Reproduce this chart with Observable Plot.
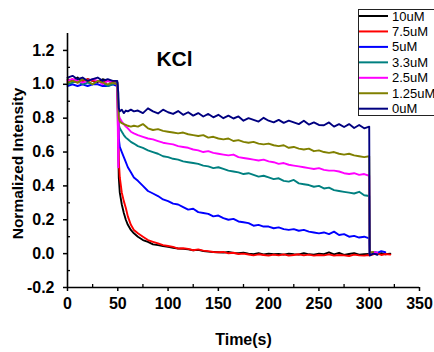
<!DOCTYPE html>
<html>
<head>
<meta charset="utf-8">
<script src="https://cdn.jsdelivr.net/npm/d3@7"></script>
<script src="https://cdn.jsdelivr.net/npm/@observablehq/plot@0.6"></script>
<style>
  html, body { margin: 0; padding: 0; background: #fff; overflow: hidden; }
  #wrap { position: relative; width: 434px; height: 352px; }
  #wrap svg { position: absolute; left: 0; top: 0; }
</style>
</head>
<body>
<div id="wrap"></div>
<script>
// ---- data ----
const seriesNames = ["10uM", "7.5uM", "5uM", "3.3uM", "2.5uM", "1.25uM", "0uM"];
const seriesColors = ["#000000", "#ff0000", "#0000ff", "#008080", "#ff00ff", "#808000", "#000080"];

const time = [0, 5, 10, 15, 20, 25, 30, 35, 40, 45, 49.5,
  50.5, 51, 52, 54, 56, 58, 60, 63, 66,
  70, 75, 80, 85, 90, 95, 100, 105, 110, 115, 120, 125, 130, 135, 140, 145, 150,
  155, 160, 165, 170, 175, 180, 185, 190, 195, 200, 205, 210, 215, 220, 225, 230,
  235, 240, 245, 250, 255, 260, 265, 270, 275, 280, 285, 290, 295, 300];
const tailTime = [300.5, 304, 308, 312, 316, 321];

const v10 = [1.03, 1.02, 1.04, 1.01, 1.03, 1.02, 1.01, 1.03, 1.02, 1.01, 1.01,
  0.62, 0.45, 0.36, 0.29, 0.24, 0.20, 0.17, 0.14, 0.12,
  0.10, 0.08, 0.07, 0.055, 0.05, 0.045, 0.04, 0.035, 0.03, 0.028, 0.025, 0.02, 0.022, 0.015, 0.012, 0.01, 0.008,
  0.006, 0.01, 0.004, 0.002, 0.005, 0.0, -0.003, 0.002, -0.005, 0.0, -0.004, -0.002, -0.006, 0.0, -0.003, -0.005,
  0.002, -0.004, -0.006, 0.0, -0.003, 0.008, -0.004, 0.005, -0.008, -0.002, 0.003, -0.006, -0.004, -0.002];
const t10 = [-0.01, 0.0, -0.005, 0.003, -0.004, 0.0];

const v75 = [1.02, 1.03, 1.01, 1.02, 1.03, 1.02, 1.02, 1.01, 1.02, 1.02, 1.01,
  0.75, 0.55, 0.45, 0.36, 0.31, 0.27, 0.22, 0.17, 0.14,
  0.12, 0.10, 0.08, 0.07, 0.06, 0.05, 0.045, 0.04, 0.03, 0.032, 0.028, 0.02, 0.025, 0.018, 0.015, 0.01, 0.008,
  0.01, 0.002, 0.005, -0.002, 0.0, -0.005, -0.01, -0.004, -0.008, -0.012, -0.006, -0.01, -0.004, -0.012, -0.008, -0.004,
  -0.01, -0.006, -0.012, -0.008, -0.01, -0.004, -0.012, -0.008, -0.01, -0.014, -0.006, -0.01, -0.012, -0.008];
const t75 = [-0.01, -0.004, 0.002, -0.008, -0.002, -0.006];

const v5 = [0.99, 1.0, 0.99, 1.0, 0.99, 1.0, 1.0, 0.99, 0.99, 1.0, 0.99,
  0.85, 0.68, 0.63, 0.60, 0.57, 0.54, 0.51, 0.48, 0.45,
  0.43, 0.40, 0.37, 0.355, 0.34, 0.32, 0.31, 0.295, 0.29, 0.275, 0.26, 0.265, 0.245, 0.24, 0.235, 0.22, 0.225,
  0.21, 0.20, 0.205, 0.19, 0.185, 0.18, 0.165, 0.17, 0.16, 0.16, 0.15, 0.155, 0.145, 0.14, 0.145, 0.135,
  0.14, 0.13, 0.125, 0.12, 0.125, 0.115, 0.13, 0.11, 0.115, 0.10, 0.105, 0.095, 0.10, 0.09];
const t5 = [0.0, 0.01, 0.005, 0.015, 0.008, null];

const v33 = [1.0, 1.01, 1.02, 1.0, 1.01, 1.0, 1.02, 1.01, 0.99, 1.0, 1.01,
  0.9, 0.76, 0.74, 0.72, 0.70, 0.685, 0.675, 0.66, 0.65,
  0.635, 0.625, 0.61, 0.60, 0.59, 0.575, 0.57, 0.56, 0.555, 0.545, 0.54, 0.535, 0.53, 0.52, 0.515, 0.505, 0.51,
  0.50, 0.49, 0.485, 0.48, 0.47, 0.475, 0.465, 0.455, 0.46, 0.45, 0.44, 0.445, 0.43, 0.425, 0.435, 0.415,
  0.41, 0.405, 0.395, 0.40, 0.385, 0.39, 0.375, 0.37, 0.365, 0.36, 0.355, 0.365, 0.345, 0.34];
const t33 = [0.0, 0.008, 0.004, null, null, null];

const v25 = [1.02, 1.03, 1.02, 1.01, 1.02, 1.03, 1.02, 1.0, 1.02, 1.01, 1.0,
  0.51, 0.82, 0.80, 0.78, 0.765, 0.75, 0.74, 0.72, 0.71,
  0.70, 0.69, 0.68, 0.675, 0.665, 0.655, 0.65, 0.645, 0.635, 0.63, 0.625, 0.615, 0.61, 0.60, 0.605, 0.595, 0.59,
  0.585, 0.58, 0.585, 0.57, 0.565, 0.56, 0.555, 0.55, 0.555, 0.545, 0.54, 0.53, 0.535, 0.525, 0.52, 0.515,
  0.51, 0.505, 0.50, 0.505, 0.495, 0.49, 0.49, 0.485, 0.475, 0.47, 0.475, 0.465, 0.47, 0.46];
const t25 = [0.0, 0.01, 0.005, null, null, null];

const v125 = [1.01, 1.02, 1.01, 1.03, 1.02, 1.0, 1.02, 1.01, 1.0, 1.01, 1.0,
  0.88, 0.80, 0.78, 0.77, 0.765, 0.76, 0.755, 0.75, 0.755,
  0.75, 0.765, 0.74, 0.73, 0.735, 0.725, 0.72, 0.715, 0.71, 0.715, 0.705, 0.70, 0.695, 0.70, 0.685, 0.69, 0.68,
  0.675, 0.68, 0.665, 0.67, 0.66, 0.655, 0.66, 0.65, 0.645, 0.65, 0.64, 0.635, 0.64, 0.625, 0.63, 0.62,
  0.615, 0.62, 0.605, 0.61, 0.60, 0.595, 0.60, 0.59, 0.585, 0.59, 0.58, 0.575, 0.57, 0.575];
const t125 = [0.005, 0.01, null, null, null, null];

const v0 = [1.04, 1.05, 1.03, 1.04, 1.02, 1.03, 1.04, 1.02, 1.03, 1.02, 1.02,
  0.95, 0.86, 0.84, 0.85, 0.83, 0.845, 0.84, 0.85, 0.84,
  0.845, 0.83, 0.858, 0.84, 0.828, 0.85, 0.835, 0.825, 0.842, 0.82, 0.835, 0.815, 0.83, 0.81, 0.825, 0.805, 0.82,
  0.80, 0.815, 0.798, 0.81, 0.785, 0.80, 0.79, 0.78, 0.802, 0.785, 0.775, 0.79, 0.772, 0.785, 0.775, 0.765,
  0.785, 0.762, 0.775, 0.76, 0.758, 0.775, 0.75, 0.765, 0.748, 0.765, 0.742, 0.76, 0.74, 0.75];
const t0 = [-0.01, 0.0, -0.005, null, null, null];

const mainValues = [v10, v75, v5, v33, v25, v125, v0];
const tailValues = [t10, t75, t5, t33, t25, t125, t0];

const xTicks = [0, 50, 100, 150, 200, 250, 300, 350];
const xMinor = [25, 75, 125, 175, 225, 275, 325];
const yTicks = [-0.2, 0.0, 0.2, 0.4, 0.6, 0.8, 1.0, 1.2];
const yMinor = [-0.1, 0.1, 0.3, 0.5, 0.7, 0.9, 1.1];
const xDomain = [0, 350];
const yDomain = [-0.2, 1.3];
const title = "KCl";
const xLabel = "Time(s)";
const yLabel = "Normalized Intensity";

// ---- build rows ----
const seriesRows = seriesNames.map((name, i) => {
  const rows = time.map((t, j) => ({t, v: mainValues[i][j], s: name}));
  tailTime.forEach((t, j) => rows.push({t, v: tailValues[i][j], s: name}));
  return rows;
});

const font = "'Liberation Sans', Arial, sans-serif";

const lineMarks = seriesRows.map((rows, i) =>
  Plot.line(rows, {x: "t", y: "v", stroke: seriesColors[i], strokeWidth: 1.9, strokeLinejoin: "round"}));

const chart = Plot.plot({
  width: 434,
  height: 352,
  marginLeft: 67,
  marginRight: 15,
  marginTop: 33,
  marginBottom: 65,
  style: {fontFamily: font, background: "transparent", color: "#000"},
  x: {domain: xDomain},
  y: {domain: yDomain},
  marks: [
    ...lineMarks,
    Plot.ruleX([xDomain[0]], {stroke: "#000", strokeWidth: 1.6}),
    Plot.ruleY([yDomain[0]], {stroke: "#000", strokeWidth: 1.6}),
    Plot.axisX({ticks: xTicks, tickSize: 4, tickPadding: 6, tickFormat: d => String(d),
      fontSize: 16, fontWeight: "bold", strokeWidth: 1.5, label: null}),
    Plot.axisX({ticks: xMinor, tickSize: 3, dy: -3, text: null, strokeWidth: 1.3, label: null}),
    Plot.axisY({ticks: yTicks, tickSize: 4, tickPadding: 9, tickFormat: d => d.toFixed(1),
      fontSize: 16, fontWeight: "bold", strokeWidth: 1.5, label: null}),
    Plot.axisY({ticks: yMinor, tickSize: 3, dx: 3, text: null, strokeWidth: 1.3, label: null}),
    Plot.text([title], {frameAnchor: "top-left", dx: 107, dy: 26, fontSize: 21, fontWeight: "bold",
      textAnchor: "middle", lineAnchor: "middle"}),
    Plot.text([xLabel], {frameAnchor: "bottom", dy: 52, fontSize: 16, fontWeight: "bold",
      lineAnchor: "middle"}),
    Plot.text([yLabel], {frameAnchor: "left", dx: -49, dy: 3, rotate: -90, fontSize: 15.5, fontWeight: "bold",
      lineAnchor: "middle", textAnchor: "middle"})
  ]
});

const wrap = document.getElementById("wrap");
wrap.appendChild(chart);

// ---- legend overlay ----
const leg = d3.select(wrap).append("svg")
  .attr("width", 434).attr("height", 352)
  .style("pointer-events", "none");
leg.append("rect")
  .attr("x", 358.5).attr("y", 9.5).attr("width", 90).attr("height", 106)
  .attr("fill", "#fff").attr("stroke", "#222").attr("stroke-width", 1);
const item = leg.selectAll("g.item").data(seriesNames).join("g")
  .attr("class", "item")
  .attr("transform", (d, i) => `translate(0, ${16 + i * 15.45})`);
item.append("line")
  .attr("x1", 359).attr("x2", 388).attr("y1", 0).attr("y2", 0)
  .attr("stroke", (d, i) => seriesColors[i]).attr("stroke-width", 2);
item.append("text")
  .attr("x", 392).attr("y", 0).attr("dy", "0.35em")
  .attr("font-family", font).attr("font-size", 13)
  .attr("fill", "#000")
  .text(d => d);
</script>
</body>
</html>
